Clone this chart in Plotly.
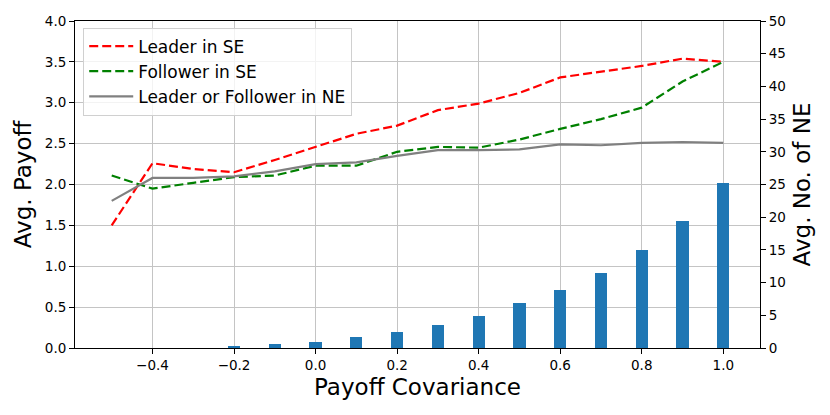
import plotly.graph_objects as go

covariance = [-0.5, -0.4, -0.3, -0.2, -0.1, 0.0, 0.1, 0.2, 0.3, 0.4, 0.5, 0.6, 0.7, 0.8, 0.9, 1.0]
leader_se = [1.50, 2.26, 2.19, 2.15, 2.30, 2.46, 2.62, 2.72, 2.91, 2.99, 3.12, 3.31, 3.38, 3.45, 3.54, 3.50]
follower_se = [2.11, 1.95, 2.02, 2.09, 2.11, 2.23, 2.23, 2.40, 2.46, 2.45, 2.55, 2.68, 2.80, 2.94, 3.26, 3.50]
ne_payoff = [1.80, 2.08, 2.08, 2.10, 2.16, 2.25, 2.27, 2.35, 2.42, 2.42, 2.43, 2.49, 2.48, 2.51, 2.52, 2.51]
num_ne = [0.0, 0.0, 0.0, 0.35, 0.6, 0.97, 1.73, 2.4, 3.5, 4.9, 6.9, 8.8, 11.5, 15.0, 19.4, 25.3]

x_ticks = [-0.4, -0.2, 0.0, 0.2, 0.4, 0.6, 0.8, 1.0]

FONT = "DejaVu Sans"
GRID = "#c4c4c4"

fig = go.Figure()

fig.add_trace(go.Bar(
    x=covariance, y=num_ne, width=0.03, yaxis="y2",
    marker=dict(color="#1f77b4", line=dict(width=0)),
    showlegend=False,
))
fig.add_trace(go.Scatter(
    x=covariance, y=leader_se, mode="lines", name="Leader in SE",
    line=dict(color="red", width=2.2, dash="9px,4px"),
))
fig.add_trace(go.Scatter(
    x=covariance, y=follower_se, mode="lines", name="Follower in SE",
    line=dict(color="green", width=2.2, dash="9px,4px"),
))
fig.add_trace(go.Scatter(
    x=covariance, y=ne_payoff, mode="lines", name="Leader or Follower in NE",
    line=dict(color="gray", width=2.2),
))

axis_common = dict(
    showline=True, linecolor="black", linewidth=1,
    ticks="outside", ticklen=5, tickwidth=1, tickcolor="black",
    tickfont=dict(family=FONT, size=13.5, color="black"),
    zeroline=False, automargin=False,
)

fig.update_layout(
    width=822, height=407,
    margin=dict(l=67, r=70, t=13, b=67),
    paper_bgcolor="white", plot_bgcolor="white",
    font=dict(family=FONT, color="black"),
    bargap=0,
    xaxis=dict(
        range=[-0.59, 1.09], tickvals=x_ticks, tickformat=".1f",
        showgrid=True, gridcolor=GRID, gridwidth=1, mirror=True,
        title=dict(text="Payoff Covariance", font=dict(family=FONT, size=23, color="black"), standoff=6),
        **axis_common,
    ),
    yaxis=dict(
        range=[0, 4], dtick=0.5, tickformat=".1f",
        showgrid=True, gridcolor=GRID, gridwidth=1,
        title=dict(text="Avg. Payoff", font=dict(family=FONT, size=23, color="black"), standoff=6),
        **axis_common,
    ),
    yaxis2=dict(
        range=[0, 50], dtick=5, overlaying="y", side="right",
        showgrid=False,
        title=dict(text="Avg. No. of NE", font=dict(family=FONT, size=23, color="black"), standoff=9),
        **axis_common,
    ),
    legend=dict(
        x=0.012, y=0.98, xanchor="left", yanchor="top",
        itemwidth=44,
        bgcolor="rgba(255,255,255,0.8)", bordercolor="#d0d0d0", borderwidth=1,
        font=dict(family=FONT, size=17, color="black"),
    ),
)

fig.write_html("out.html")
